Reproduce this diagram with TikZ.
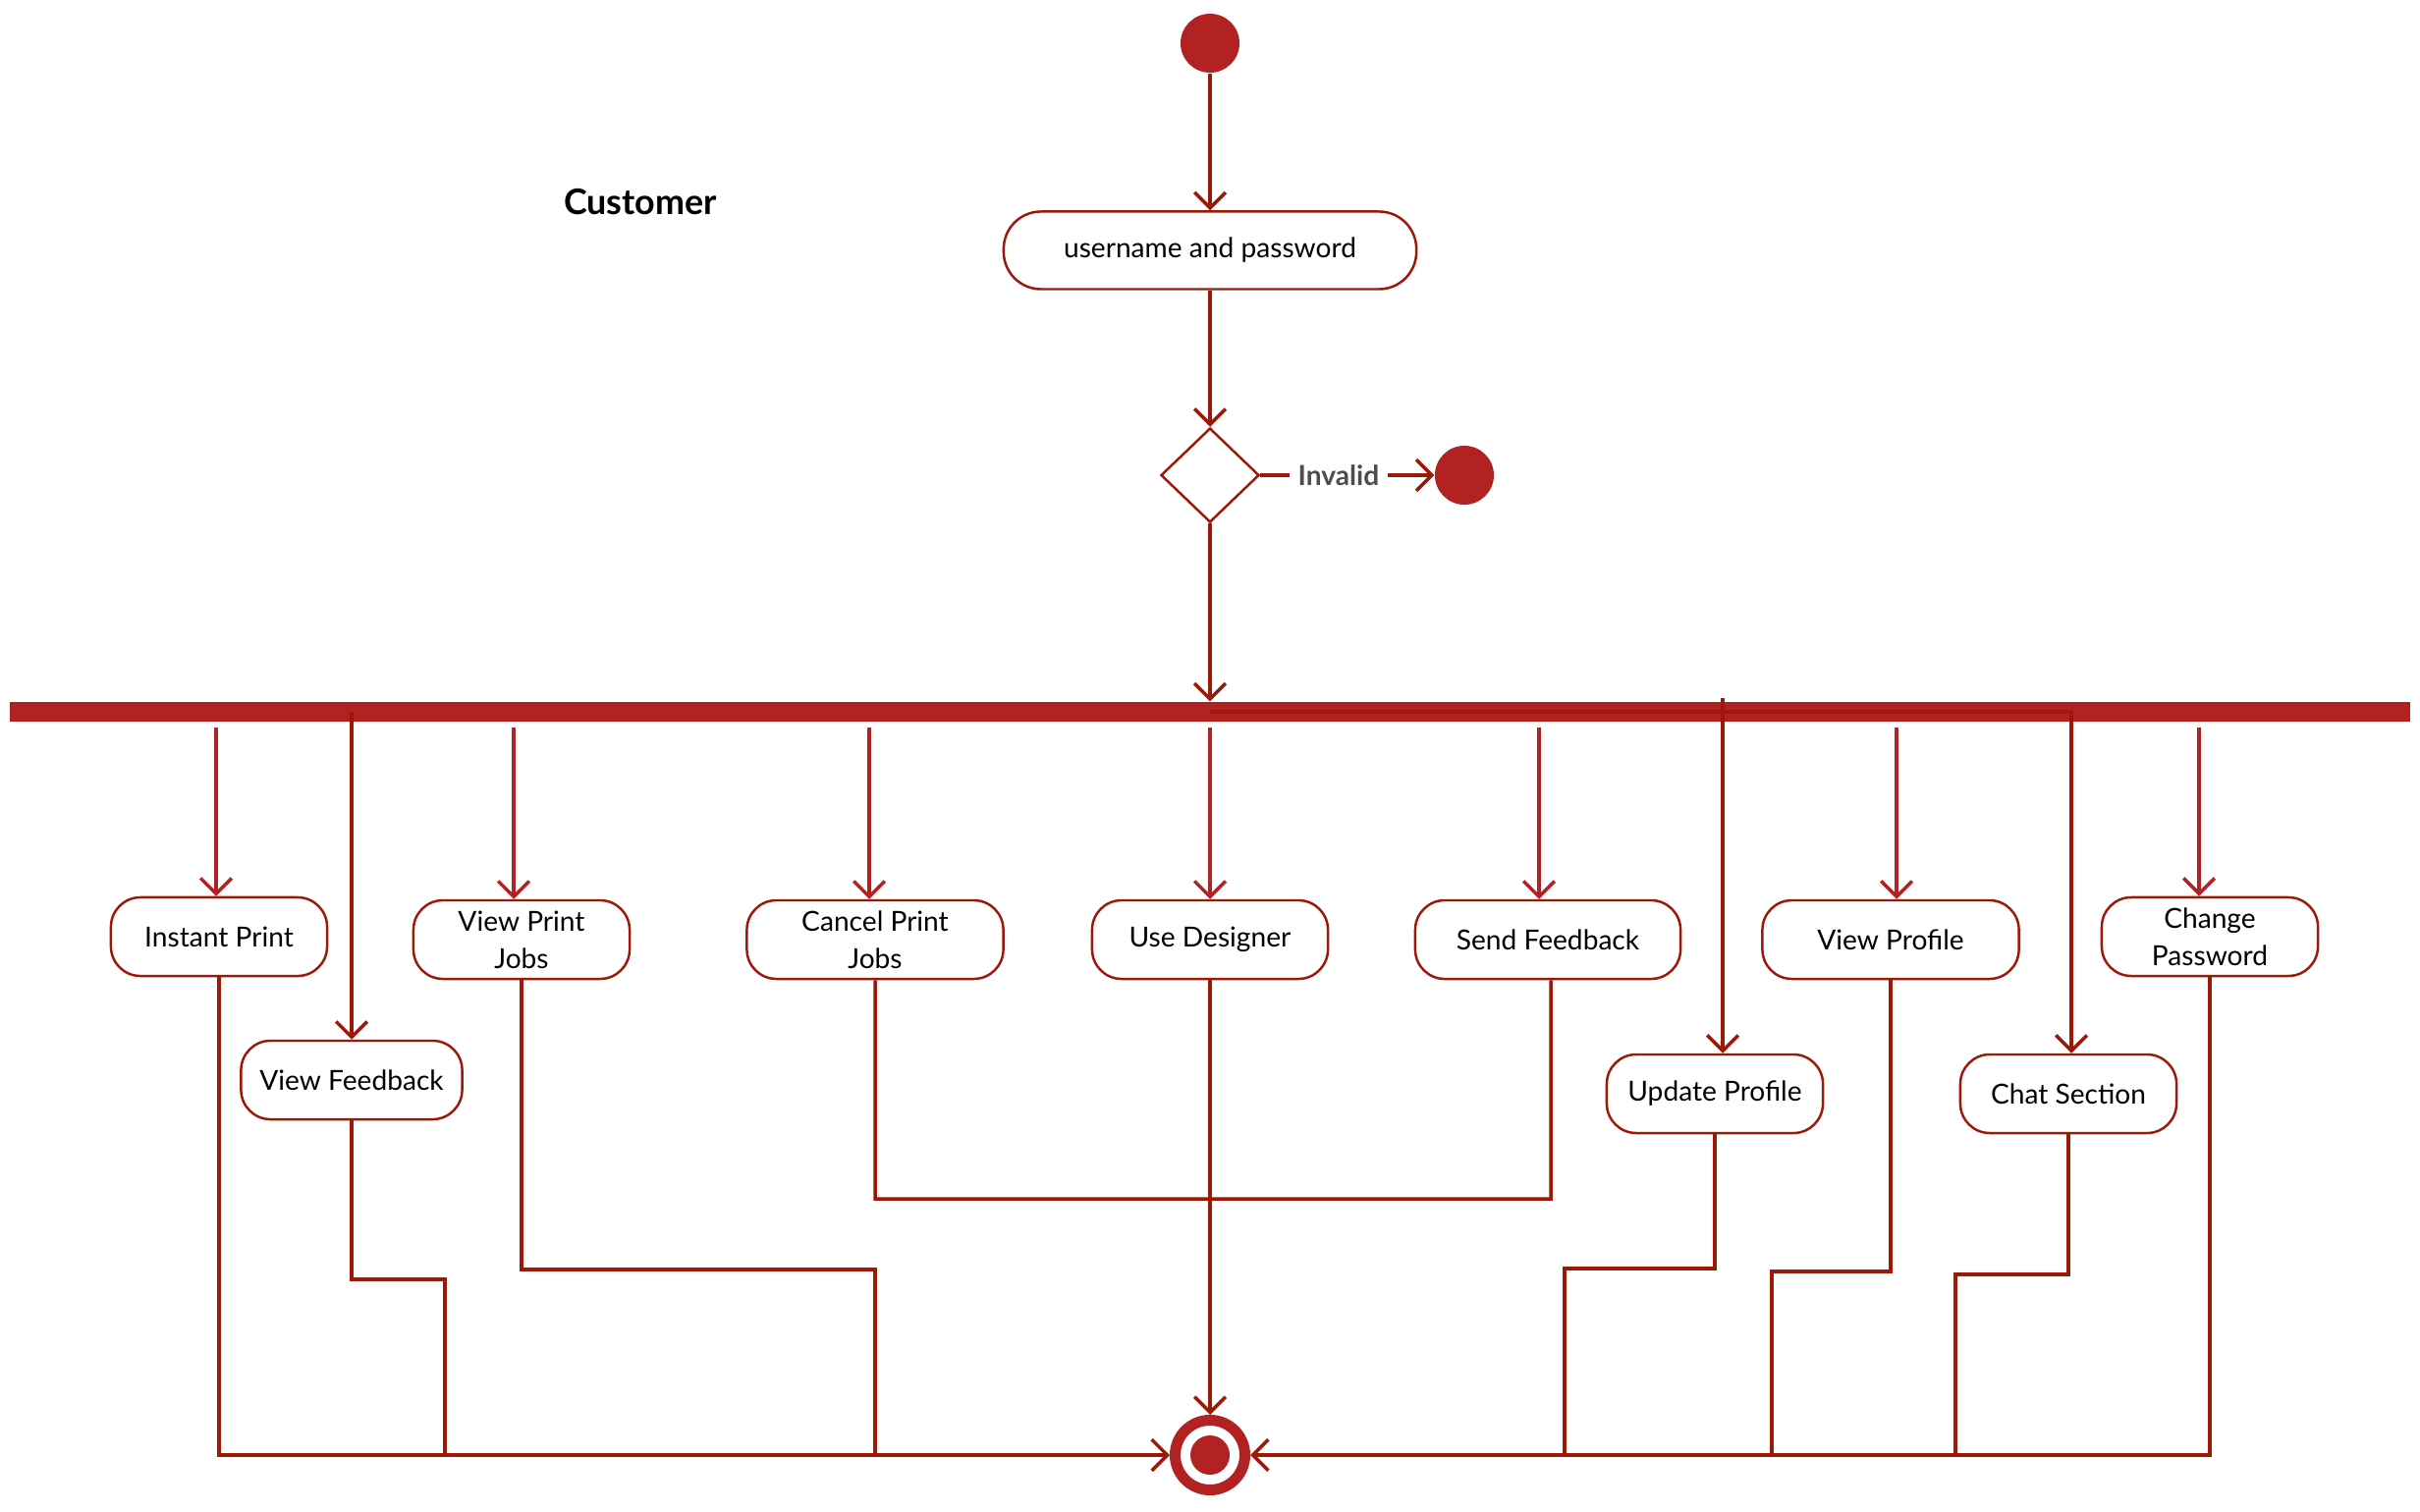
\documentclass[tikz,border=0pt]{standalone}
\usepackage{fontspec}
\setmainfont{Lato}
\usetikzlibrary{arrows.meta,shapes.geometric}
\definecolor{umlred}{RGB}{178,34,34}
\definecolor{flowred}{RGB}{158,24,8}
\definecolor{lblgray}{RGB}{77,77,77}

\begin{document}
\begin{tikzpicture}[x=0.01cm, y=-0.01cm, every node/.style={font=\fontsize{8}{10.8}\selectfont}, act/.style={draw=flowred,line width=0.7pt,rounded corners=0.3cm,align=center,minimum height=0.8cm,fill=white,inner sep=2pt}, dot/.style={circle,fill=umlred,minimum size=0.6cm,inner sep=0}, flow/.style={draw=flowred,line width=1pt,->}, fork/.style={draw=umlred,line width=1pt,->}, >={Straight Barb[length=4.5pt,width=9pt]}]
\useasboundingbox (0,0) rectangle (2464,1540);
\node[dot] (start) at (1232,44) {};
\node[font=\fontsize{10.2}{12}\selectfont\bfseries] (cust) at (652,206) {Customer};
\node[act,minimum width=4.2cm,minimum height=0.79cm,rounded corners=0.38cm] (user) at (1232,255) {username and password};
\node[diamond,draw=flowred,line width=0.7pt,minimum width=1cm,minimum height=0.96cm,inner sep=0] (dec) at (1232,484) {};
\node[dot] (bad) at (1491,484) {};
\node[fill=umlred,minimum width=24.42cm,minimum height=0.2cm,inner sep=0] (bar) at (1232,725) {};
% actions below the fork
\node[act,minimum width=2.2cm] (inst) at (223,954) {Instant Print};
\node[act,minimum width=2.25cm] (vfb) at (358,1100) {View Feedback};
\node[act,minimum width=2.2cm] (vpj) at (531,957) {View Print\\Jobs};
\node[act,minimum width=2.61cm] (cpj) at (891,957) {Cancel Print\\Jobs};
\node[act,minimum width=2.4cm] (ud) at (1232,957) {Use Designer};
\node[act,minimum width=2.7cm] (sfb) at (1576,957) {Send Feedback};
\node[act,minimum width=2.2cm] (upd) at (1746,1114) {Update Profile};
\node[act,minimum width=2.61cm] (vp) at (1925,957) {View Profile};
\node[act,minimum width=2.2cm] (chat) at (2106,1114) {Chat Section};
\node[act,minimum width=2.2cm] (cpw) at (2250,954) {Change\\Password};
\node[circle,draw=umlred,line width=0.11cm,minimum size=0.71cm,inner sep=0] (fin) at (1232,1482) {};
\node[dot,minimum size=0.4cm] (findot) at (fin) {};
% top part
\draw[flow] (start) -- (user);
\draw[flow] (user) -- (dec);
\draw[flow] (dec) -- node[pos=0.45,fill=white,text=lblgray,font=\fontsize{8}{10}\selectfont\bfseries,inner xsep=0.09cm] {Invalid} (bad);
\draw[flow] (dec) -- (dec |- bar.north);
% fork
\foreach \n/\d in {inst/-3,vpj/-8,cpj/-6,ud/0,sfb/-9,vp/6,cpw/-11} \draw[fork] ([xshift=\d*0.01cm,yshift=-0.05cm]\n.north |- bar.south) -- ([xshift=\d*0.01cm]\n.north);
\draw[flow] (bar.center -| vfb) -- (vfb);
\draw[flow] ([xshift=0.08cm,yshift=0.03cm]upd.north |- bar.north) -- ([xshift=0.08cm]upd.north);
\draw[flow] (bar.center) -| ([xshift=0.03cm]chat.north);
% back to the end
\draw[flow] (inst) |- (fin);
\draw[flow] (cpw) |- (fin);
\draw[flow] (ud) -- (fin);
\draw[draw=flowred,line width=1pt] (vfb) |- (453,1303) -- (453,1482);
\draw[draw=flowred,line width=1pt] (vpj) |- (891,1293) -- (891,1482);
\draw[draw=flowred,line width=1pt] (cpj) |- (1579,1221) -- ([xshift=0.03cm]sfb.south);
\draw[draw=flowred,line width=1pt] (upd) |- (1593,1292) -- (1593,1482);
\draw[draw=flowred,line width=1pt] (vp) |- (1804,1295) -- (1804,1482);
\draw[draw=flowred,line width=1pt] (chat) |- (1991,1298) -- (1991,1482);
\end{tikzpicture}
\end{document}
